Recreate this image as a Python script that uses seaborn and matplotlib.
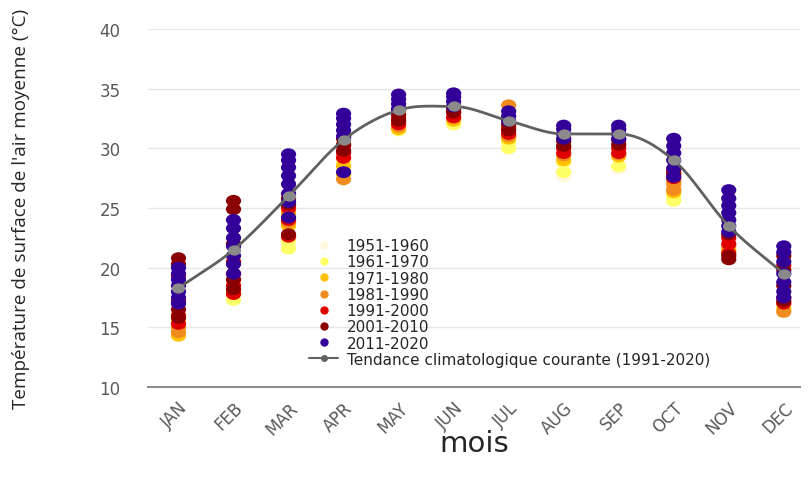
import numpy as np
import pandas as pd
import matplotlib
matplotlib.use("Agg")
import matplotlib.pyplot as plt
import seaborn as sns
from matplotlib.lines import Line2D
from matplotlib.path import Path

# months and decades
months = ["JAN", "FEB", "MAR", "APR", "MAY", "JUN", "JUL", "AUG", "SEP", "OCT", "NOV", "DEC"]
decades = ["1951-1960", "1961-1970", "1971-1980", "1981-1990", "1991-2000", "2001-2010", "2011-2020"]
colors = ["#fff8dc", "#ffff66", "#ffc000", "#f08c1e", "#e00000", "#8b0000", "#330099"]

# temperatures, one list per month for each decade
t_1951 = [[15.5, 16.0], [18.0, 19.0], [22.5, 23.5], [28.5, 29.0], [31.8], [32.3],
          [30.2], [27.6, 28.0], [28.3], [25.8], [21.5], [17.0]]
t_1961 = [[15.0, 16.0], [17.3, 18.0], [21.6, 22.2], [28.8, 29.2], [31.5, 32.0], [32.0],
          [30.0, 30.5], [28.0, 28.8], [28.5], [25.6, 26.0], [21.3], [16.8]]
t_1971 = [[14.3, 15.5], [17.8, 18.5], [23.5, 24.5], [27.8, 28.5], [31.6], [32.3],
          [30.8, 31.0], [29.0], [29.3], [26.3, 26.6], [21.5], [16.5]]
t_1981 = [[14.6, 15.0, 16.0], [18.0, 19.0], [23.8, 24.7], [27.4, 28.0], [31.8, 32.2], [32.5],
          [33.6, 31.0], [29.4], [29.5], [26.5, 27.0, 27.2], [21.8], [16.3]]
t_1991 = [[15.3, 16.0, 17.0, 19.3], [17.8, 18.5, 19.5, 20.5], [22.6, 24.0, 25.0], [29.2, 29.6, 30.2],
          [32.0, 32.5], [32.6, 33.0], [31.2, 31.7], [29.6, 30.0], [29.6, 30.0], [27.5, 28.0],
          [21.2, 22.0, 22.5], [17.0, 17.5, 20.2]]
t_2001 = [[15.8, 16.5, 17.2, 20.3, 20.8], [18.2, 19.0, 22.0, 24.9, 25.6], [22.8, 25.3, 25.8],
          [29.8, 30.3, 30.8], [32.3, 32.8, 33.2], [33.0, 33.3], [31.5, 32.0], [30.2, 30.6],
          [30.3, 30.7], [27.8, 28.3], [20.7, 21.0, 22.8], [17.2, 18.5, 19.8, 21.0]]
t_2011 = [[17.0, 17.5, 18.0, 18.5, 19.0, 19.5, 20.0], [19.5, 20.3, 21.0, 21.8, 22.5, 23.3, 24.0],
          [24.2, 25.5, 26.2, 27.0, 27.7, 28.4, 29.0, 29.5], [28.0, 31.0, 31.5, 32.0, 32.5, 32.9],
          [33.3, 33.7, 34.1, 34.5], [33.5, 33.9, 34.3, 34.6], [32.3, 32.7, 33.1],
          [30.8, 31.2, 31.6, 31.9], [30.8, 31.2, 31.6, 31.9], [27.6, 28.3, 29.0, 29.6, 30.2, 30.8],
          [23.0, 23.5, 24.0, 24.6, 25.2, 25.8, 26.5], [17.5, 18.0, 18.8, 19.5, 20.5, 21.3, 21.8]]

# current climatological trend (1991-2020)
trend = [18.3, 21.5, 26.0, 30.7, 33.2, 33.5, 32.3, 31.2, 31.2, 29.0, 23.5, 19.5]

rows = []
for dec, vals in zip(decades, [t_1951, t_1961, t_1971, t_1981, t_1991, t_2001, t_2011]):
    for i, lst in enumerate(vals):
        for v in lst:
            rows.append({"mois": i, "temp": v, "decade": dec})
df = pd.DataFrame(rows)

# slightly wide oval dot, like the stretched original
circ = Path.unit_circle()
oval = Path(circ.vertices * [1.0, 0.78], circ.codes)

sns.set_style("white")
plt.rcParams["font.family"] = ["Open Sans", "DejaVu Sans"]

fig = plt.figure(figsize=(8.1, 4.81), dpi=100)
ax = fig.add_axes([0.183, 0.193, 0.805, 0.745])

sns.scatterplot(data=df, x="mois", y="temp", hue="decade", hue_order=decades,
                palette=colors, s=120, marker=oval, linewidth=0, legend=False, ax=ax, zorder=3)

# smoothed trend curve (monotone cubic through the monthly values)
x = np.arange(len(trend), dtype=float)
y = np.array(trend)
d = np.diff(y)
m = np.zeros_like(y)
m[0], m[-1] = d[0], d[-1]
for k in range(1, len(y) - 1):
    m[k] = 0 if d[k - 1] * d[k] <= 0 else (d[k - 1] + d[k]) / 2
sx, sy = [], []
for k in range(len(y) - 1):
    t = np.linspace(0, 1, 25)
    h00 = 2 * t**3 - 3 * t**2 + 1
    h10 = t**3 - 2 * t**2 + t
    h01 = -2 * t**3 + 3 * t**2
    h11 = t**3 - t**2
    sx.extend(x[k] + t)
    sy.extend(h00 * y[k] + h10 * m[k] + h01 * y[k + 1] + h11 * m[k + 1])
ax.plot(sx, sy, color="#606060", lw=2, zorder=4)
sns.scatterplot(x=x, y=y, color="#8a8a8a", s=90, marker=oval, linewidth=0, ax=ax, zorder=5,
                legend=False)

ax.set_xlim(-0.55, 11.3)
ax.set_ylim(10, 40)
ax.set_yticks(range(10, 41, 5))
ax.set_xticks(range(12))
ax.set_xticklabels(months, rotation=45, ha="right", rotation_mode="anchor")
ax.tick_params(axis="both", colors="#595959", labelsize=12, length=0)
for lab in ax.get_xticklabels() + ax.get_yticklabels():
    lab.set_family(["DejaVu Sans"])
ax.tick_params(axis="y", pad=20)
ax.tick_params(axis="x", pad=8)
ax.grid(axis="y", color="#e6e6e6", lw=1)
for sp in ["top", "right", "left"]:
    ax.spines[sp].set_visible(False)
ax.spines["bottom"].set_color("#8c8c8c")
ax.spines["bottom"].set_linewidth(1.5)
ax.set_xlabel("mois", fontsize=21, labelpad=-6, family=["DejaVu Sans"])
ax.set_ylabel("Température de surface de l'air moyenne (°C)", fontsize=13.6, labelpad=50)

handles = [Line2D([], [], marker="o", ls="", color=c, markersize=5) for c in colors]
handles.append(Line2D([], [], marker="o", color="#606060", markersize=4, lw=1.5))
labels = decades + ["Tendance climatologique courante (1991-2020)"]
ax.legend(handles, labels, loc="upper left", bbox_to_anchor=(0.235, 0.437), frameon=False,
          prop={"family": ["DejaVu Sans"], "size": 11}, handlelength=1.9, handletextpad=0.55,
          labelspacing=0.08, borderpad=0)

fig.savefig("out.png", dpi=100)
